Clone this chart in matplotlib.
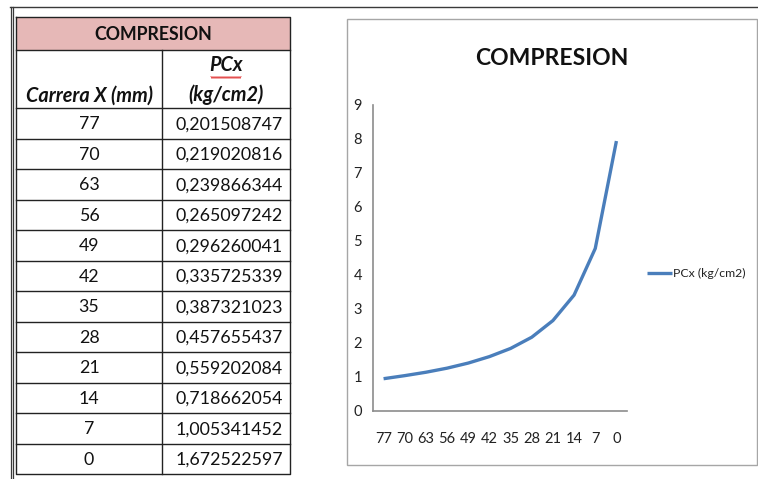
import matplotlib
matplotlib.use("Agg")
import matplotlib.pyplot as plt
from matplotlib.patches import Rectangle
import numpy as np

# ---- data ----
title = "COMPRESION"
col_headers = ["Carrera X (mm)", "PCx", "(kg/cm2)"]
carrera_mm = ["77", "70", "63", "56", "49", "42", "35", "28", "21", "14", "7", "0"]
pcx_table = ["0,201508747", "0,219020816", "0,239866344", "0,265097242",
             "0,296260041", "0,335725339", "0,387321023", "0,457655437",
             "0,559202084", "0,718662054", "1,005341452", "1,672522597"]
chart_values = [0.95, 1.04, 1.14, 1.26, 1.41, 1.60, 1.84, 2.17, 2.66, 3.41, 4.78, 7.94]
series_label = "PCx (kg/cm2)"
y_ticks = list(range(0, 10))

W, H = 758, 479
fig = plt.figure(figsize=(W / 100, H / 100), dpi=100)
fig.patch.set_facecolor("white")

# full-page drawing layer in pixel units
canvas = fig.add_axes([0, 0, 1, 1])
canvas.set_xlim(0, W)
canvas.set_ylim(H, 0)
canvas.axis("off")

# page border
canvas.plot([10, W], [7, 7], color="#3a3a3a", lw=1.0)
canvas.plot([10.5, 10.5], [7, H], color="#3a3a3a", lw=0.9)
canvas.plot([13, 13], [7, H], color="#3a3a3a", lw=0.9)

# ---- table ----
TF = "Lato"
x0, x1, x2 = 16, 162, 290
h_top, h_mid, d_top = 17, 50, 108
row_h = (474 - d_top) / len(carrera_mm)
border = dict(color="#222222", lw=1.0)

canvas.add_patch(Rectangle((x0, h_top), x2 - x0, h_mid - h_top,
                           facecolor="#E6B8B7", edgecolor="none"))
canvas.text((x0 + x2) / 2, (h_top + h_mid) / 2 + 1, title, ha="center", va="center",
            fontsize=12.8, fontweight="bold", family=TF, color="#111111")
canvas.text((x0 + x1) / 2, 96, col_headers[0], ha="center", va="center",
            fontsize=14.3, fontweight="bold", style="italic", family=TF, color="#111111")
canvas.text((x1 + x2) / 2, 65, col_headers[1], ha="center", va="center",
            fontsize=14.3, fontweight="bold", style="italic", family=TF, color="#111111")
canvas.text((x1 + x2) / 2, 95, col_headers[2], ha="center", va="center",
            fontsize=14.3, fontweight="bold", style="italic", family=TF, color="#111111")
# spell-check squiggle under PCx
sx = np.linspace(211, 241, 31)
sy = 77.5 + 1.0 * np.where(np.arange(31) % 2 == 0, -1, 1)
canvas.plot(sx, sy, color="#e03030", lw=0.6)

for i, (c, v) in enumerate(zip(carrera_mm, pcx_table)):
    yc = d_top + (i + 0.5) * row_h
    canvas.text((x0 + x1) / 2, yc + 1, c, ha="center", va="center",
                fontsize=12.8, family=TF, color="#111111")
    canvas.text((x1 + x2) / 2 + 3, yc + 1, v, ha="center", va="center",
                fontsize=12.8, family=TF, color="#111111")

# grid lines
canvas.plot([x0, x2, x2, x0, x0], [h_top, h_top, 474, 474, h_top], **border)
canvas.plot([x0, x2], [h_mid, h_mid], **border)
canvas.plot([x1, x1], [h_mid, 474], **border)
for i in range(len(carrera_mm)):
    yl = d_top + i * row_h
    canvas.plot([x0, x2], [yl, yl], **border)

# ---- chart ----
CF = "Lato"
canvas.add_patch(Rectangle((347, 19), 757 - 347, 465 - 19, facecolor="white",
                           edgecolor="#a6a6a6", lw=1.0))
canvas.text(552, 58, title, ha="center", va="center", fontsize=16.5,
            fontweight="bold", family=CF, color="#111111")

ax = fig.add_axes([373 / W, 1 - 411 / H, 254 / W, 306 / H])
ax.set_facecolor("none")
xs = np.arange(len(carrera_mm))
line, = ax.plot(xs, chart_values, color="#4A7EBB", lw=2.4, solid_capstyle="butt")
ax.set_xlim(-0.5, len(carrera_mm) - 0.5)
ax.set_ylim(0, 9)
ax.set_xticks(xs)
ax.set_xticklabels(carrera_mm)
ax.set_yticks(y_ticks)
for s in ["top", "right"]:
    ax.spines[s].set_visible(False)
for s in ["left", "bottom"]:
    ax.spines[s].set_color("#8c8c8c")
    ax.spines[s].set_linewidth(1.2)
ax.tick_params(axis="both", length=0, labelsize=10.5, labelcolor="#222222")
ax.tick_params(axis="x", pad=15)
ax.tick_params(axis="y", pad=8)
for lab in ax.get_xticklabels() + ax.get_yticklabels():
    lab.set_family(CF)

# legend
canvas.plot([647, 672], [273, 273], color="#4A7EBB", lw=2.4, solid_capstyle="butt")
canvas.text(673, 273, series_label, ha="left", va="center", fontsize=8.8,
            family=CF, color="#222222")

fig.savefig("out.png", dpi=100, facecolor="white")
